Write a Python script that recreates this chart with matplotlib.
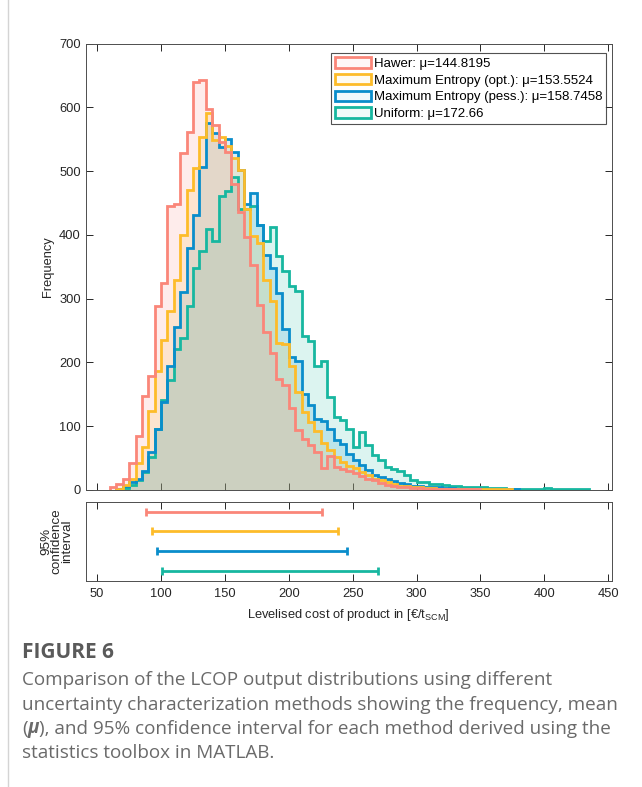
import numpy as np
import matplotlib
matplotlib.use('Agg')
import matplotlib.pyplot as plt
from matplotlib.patches import Patch
from matplotlib.lines import Line2D

plt.rcParams['font.family'] = ['Liberation Sans', 'DejaVu Sans']
plt.rcParams['mathtext.fontset'] = 'custom'
plt.rcParams['mathtext.rm'] = 'Liberation Sans'
plt.rcParams['mathtext.it'] = 'Liberation Sans:italic'

# histogram counts, bin width 5, first bin starts at *_start
bin_width = 5

hawer_start = 60
hawer_counts = [4, 10, 18, 42, 85, 147, 178, 288, 325, 445, 448, 528, 561, 640, 643,
                597, 573, 545, 530, 480, 436, 396, 352, 290, 247, 215, 174, 165, 129, 94,
                80, 70, 59, 34, 54, 36, 33, 30, 26, 22, 18, 15, 11, 8, 6,
                5, 4, 3, 3, 2, 2, 2, 1, 2, 1, 1, 1, 1]

opt_start = 65
opt_counts = [2, 8, 18, 42, 68, 124, 187, 235, 280, 330, 400, 470, 505, 553, 591,
              548, 553, 539, 520, 501, 441, 398, 387, 330, 296, 230, 229, 195, 153, 122,
              107, 92, 74, 62, 52, 44, 38, 34, 28, 23, 18, 15, 12, 9, 7,
              6, 5, 4, 3, 3, 2, 2, 2, 1, 1, 1, 1, 1, 1, 1, 1, 2]

pess_start = 65
pess_counts = [2, 6, 12, 18, 30, 59, 95, 138, 195, 255, 310, 380, 431, 506, 575,
               559, 538, 551, 530, 501, 449, 465, 415, 369, 348, 309, 252, 208, 202, 150,
               133, 112, 108, 96, 78, 72, 57, 47, 39, 31, 24, 21, 18, 14, 11,
               9, 7, 6, 5, 4, 4, 3, 3, 2, 2, 2, 2, 1, 1, 1, 1, 1, 2]

unif_start = 65
unif_counts = [1, 3, 8, 15, 28, 52, 96, 141, 172, 221, 238, 288, 348, 374, 409,
               390, 461, 469, 490, 440, 441, 445, 416, 390, 412, 367, 343, 320, 312, 242,
               234, 195, 203, 146, 114, 109, 96, 68, 91, 70, 55, 47, 36, 33, 30,
               23, 15, 12, 12, 10, 10, 8, 7, 6, 5, 5, 4, 4, 3, 3,
               3, 2, 2, 2, 2, 2, 2, 3, 2, 2, 2, 2, 2, 2]

labels = ['Hawer: μ=144.8195',
          'Maximum Entropy (opt.): μ=153.5524',
          'Maximum Entropy (pess.): μ=158.7458',
          'Uniform: μ=172.66']
colors = ['#FA8679', '#FDBC2A', '#0A8DCB', '#17B7A0']

# 95% confidence intervals
ci_low = [88.5, 93.0, 96.6, 100.5]
ci_high = [226.2, 238.3, 245.5, 270.2]

starts = [hawer_start, opt_start, pess_start, unif_start]
counts = [hawer_counts, opt_counts, pess_counts, unif_counts]

fs = 9.3
dark = '#262626'

fig = plt.figure(figsize=(6.42, 7.87), dpi=100)
ax = fig.add_axes([0.1335, 0.3774, 0.8198, 0.5673])
ax2 = fig.add_axes([0.1335, 0.2621, 0.8198, 0.1004])

# fills first (uniform at the bottom), then the outlines
for i in [3, 2, 1, 0]:
    c = np.array(counts[i])
    edges = starts[i] + bin_width * np.arange(len(c) + 1)
    ax.stairs(c, edges, fill=True, color=colors[i], alpha=0.15, lw=0, zorder=2)
for i in [3, 2, 1, 0]:
    c = np.array(counts[i])
    edges = starts[i] + bin_width * np.arange(len(c) + 1)
    ax.stairs(c, edges, color=colors[i], lw=2, zorder=3)

ax.set_xlim(41, 453)
ax.set_ylim(0, 700)
ax.set_xticks(np.arange(50, 451, 50))
ax.set_xticklabels([])
ax.set_yticks(np.arange(0, 701, 100))
ax.set_ylabel('Frequency', fontsize=fs, color=dark)
ax.tick_params(direction='in', top=True, right=True, length=5, width=0.7,
               colors=dark, labelsize=fs)
for s in ax.spines.values():
    s.set_color('#4d4d4d')
    s.set_linewidth(0.7)

handles = [Patch(facecolor=matplotlib.colors.to_rgba(colors[i], 0.06),
                 edgecolor=colors[i], lw=2) for i in range(4)]
leg = ax.legend(handles, labels, loc='upper right', bbox_to_anchor=(0.9886, 0.9787),
                fontsize=9.5, frameon=True, fancybox=False, borderpad=0.3,
                labelspacing=0.3, handlelength=2.75, handleheight=0.85,
                handletextpad=0.2, borderaxespad=0)
leg.get_frame().set_edgecolor(dark)
leg.get_frame().set_linewidth(0.8)

# confidence interval panel
ci_y = [4, 3, 2, 1]
for i in range(4):
    mid = (ci_low[i] + ci_high[i]) / 2
    half = (ci_high[i] - ci_low[i]) / 2
    ax2.errorbar(mid, ci_y[i], xerr=half, fmt='none', ecolor=colors[i],
                 elinewidth=2, capsize=3, capthick=2)
ax2.set_xlim(41, 453)
ax2.set_ylim(0.5, 4.5)
ax2.set_xticks(np.arange(50, 451, 50))
ax2.set_yticks([])
ax2.tick_params(direction='in', top=True, length=5, width=0.7,
                colors=dark, labelsize=fs, pad=5)
for s in ax2.spines.values():
    s.set_color('#4d4d4d')
    s.set_linewidth(0.7)
ax2.set_ylabel('95%\nconfidence\ninterval', fontsize=fs + 0.4, linespacing=0.85,
               color=dark, labelpad=9)
ax2.set_xlabel(r'Levelised cost of product in [€/t$_{\rm SCM}$]', fontsize=fs,
               color=dark, labelpad=5)

# caption
cap_font = ['Open Sans', 'DejaVu Sans']
cap_col = '#6a6a6a'
cap_fs = 13.6
x0 = 22 / 642
fig.text(x0, 1 - 653 / 787, 'FIGURE 6', fontsize=15, fontweight='bold',
         color='#5a5a5a', family=cap_font, va='center')
fig.text(x0, 1 - 680 / 787, 'Comparison of the LCOP output distributions using different',
         fontsize=cap_fs, color=cap_col, family=cap_font, va='center')
fig.text(x0, 1 - 705 / 787, 'uncertainty characterization methods showing the frequency, mean',
         fontsize=cap_fs, color=cap_col, family=cap_font, va='center')
t1 = fig.text(x0, 1 - 729 / 787, '(', fontsize=cap_fs, color=cap_col, family=cap_font,
              va='center')
t2 = ax2.annotate('μ', xy=(1, 0), xycoords=t1, va='bottom', ha='left', fontsize=cap_fs,
                  color=cap_col, family=cap_font, fontweight='bold', style='italic',
                  annotation_clip=False)
ax2.annotate('), and 95% confidence interval for each method derived using the',
             xy=(1, 0), xycoords=t2, va='bottom', ha='left', fontsize=cap_fs,
             color=cap_col, family=cap_font, annotation_clip=False)
fig.text(x0, 1 - 753 / 787, 'statistics toolbox in MATLAB.',
         fontsize=cap_fs, color=cap_col, family=cap_font, va='center')

fig.add_artist(Line2D([8 / 642, 8 / 642], [0, 1], transform=fig.transFigure,
                      color='#d4d4d4', lw=1))

fig.savefig('out.png', dpi=100)
